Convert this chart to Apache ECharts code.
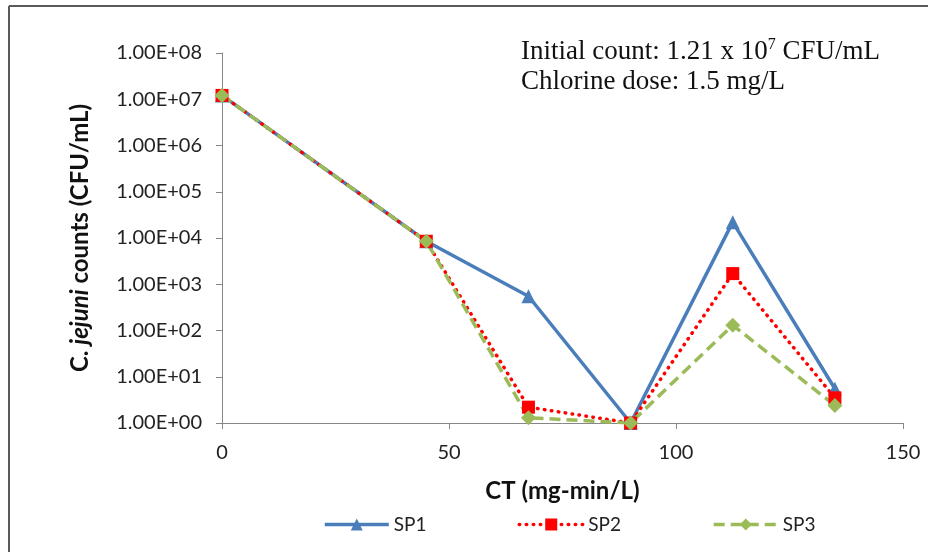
<!DOCTYPE html>
<html>
<head>
<meta charset="utf-8">
<script src="https://cdn.jsdelivr.net/npm/echarts@6/dist/echarts.min.js"></script>
<style>html,body{margin:0;padding:0;background:#fff}#c{width:928px;height:552px}</style>
</head>
<body>
<div id="c"></div>
<script>
var ctValues = [0, 45, 67.5, 90, 112.5, 135];
var sp1 = [1.21e7, 8.5e3, 5.5e2, 1, 2.2e4, 5.5];
var sp2 = [1.21e7, 8.5e3, 2.2, 1, 1.7e3, 3.5];
var sp3 = [1.21e7, 8.5e3, 1.3, 1, 1.3e2, 2.4];
var seriesNames = ['SP1', 'SP2', 'SP3'];
var yTickLabels = ['1.00E+00','1.00E+01','1.00E+02','1.00E+03','1.00E+04','1.00E+05','1.00E+06','1.00E+07','1.00E+08'];
var xTickLabels = ['0','50','100','150'];

function pairs(vals){ return ctValues.map(function(x,i){return [x, vals[i]];}); }

var chart = echarts.init(document.getElementById('c'), null, {renderer:'canvas'});
var labelFont = 'Lato, "Open Sans", sans-serif';
var axisColor = '#868686';
chart.setOption({
  animation: false,
  backgroundColor: '#fff',
  grid: {left: 222, right: 25, top: 53, bottom: 129, containLabel: false},
  xAxis: {
    type: 'value', min: 0, max: 150, interval: 50,
    axisLine: {show: true, lineStyle: {color: axisColor, width: 1}},
    axisTick: {show: true, length: 6, lineStyle: {color: axisColor}},
    splitLine: {show: false},
    axisLabel: {color: '#222', fontSize: 20, fontFamily: labelFont, margin: 20,
      formatter: function(v){ var i = Math.round(v/50); return xTickLabels[i] !== undefined ? xTickLabels[i] : ''; }},
    name: 'CT (mg-min/L)', nameLocation: 'middle', nameGap: 56,
    nameTextStyle: {color: '#111', fontSize: 24, fontWeight: 'bold', fontFamily: labelFont}
  },
  yAxis: {
    type: 'log', logBase: 10, min: 1, max: 1e8,
    axisLine: {show: true, lineStyle: {color: axisColor, width: 1}},
    axisTick: {show: true, length: 6, inside: false, lineStyle: {color: axisColor}},
    splitLine: {show: false},
    minorTick: {show: false},
    axisLabel: {color: '#222', fontSize: 20, fontFamily: labelFont, margin: 20,
      formatter: function(v){ var e = Math.round(Math.log10(v)); return yTickLabels[e] !== undefined ? yTickLabels[e] : ''; }},
    name: '{n|C. }{i|jejuni}{n| counts (CFU/mL)}', nameLocation: 'middle', nameGap: 130, nameRotate: 90,
    nameTextStyle: {
      rich: {
        n: {color: '#111', fontSize: 24, fontWeight: 'bold', fontFamily: labelFont},
        i: {color: '#111', fontSize: 24, fontWeight: 'bold', fontStyle: 'italic', fontFamily: labelFont}
      }
    }
  },
  legend: {
    bottom: 13, left: 318, itemGap: 91, itemWidth: 64, itemHeight: 15,
    textStyle: {fontSize: 19, color: '#222', fontFamily: labelFont},
    lineStyle: {width: 3.5},
    data: seriesNames
  },
  graphic: [
    {type: 'line', shape: {x1: 9, y1: 6, x2: 928, y2: 6}, style: {stroke: '#5a5a5a', lineWidth: 2}},
    {type: 'line', shape: {x1: 9, y1: 6, x2: 9, y2: 552}, style: {stroke: '#5a5a5a', lineWidth: 2}},
    {type: 'text', left: 521, top: 37, style: {
      text: 'Initial count: 1.21 x 10{sup|7} CFU/mL\nChlorine dose: 1.5 mg/L',
      font: '27px "Liberation Serif", "Times New Roman", serif', fill: '#111', lineHeight: 30,
      rich: {sup: {fontSize: 16, fontFamily: '"Liberation Serif", serif', verticalAlign: 'top', padding: [0,0,12,0], fill: '#111'}}
    }}
  ],
  series: [
    {name: 'SP1', type: 'line', data: pairs(sp1), symbol: 'triangle', symbolSize: 14,
      itemStyle: {color: '#4a7ebb'}, lineStyle: {color: '#4a7ebb', width: 3.5, type: 'solid'}},
    {name: 'SP2', type: 'line', data: pairs(sp2), symbol: 'rect', symbolSize: 13,
      itemStyle: {color: '#ff0000'}, lineStyle: {color: '#ff0000', width: 3.5, type: [0.5, 6.5], cap: 'round'}},
    {name: 'SP3', type: 'line', data: pairs(sp3), symbol: 'diamond', symbolSize: 15,
      itemStyle: {color: '#9bbb59'}, lineStyle: {color: '#9bbb59', width: 3.5, type: [11, 6]}}
  ]
});
</script>
</body>
</html>
